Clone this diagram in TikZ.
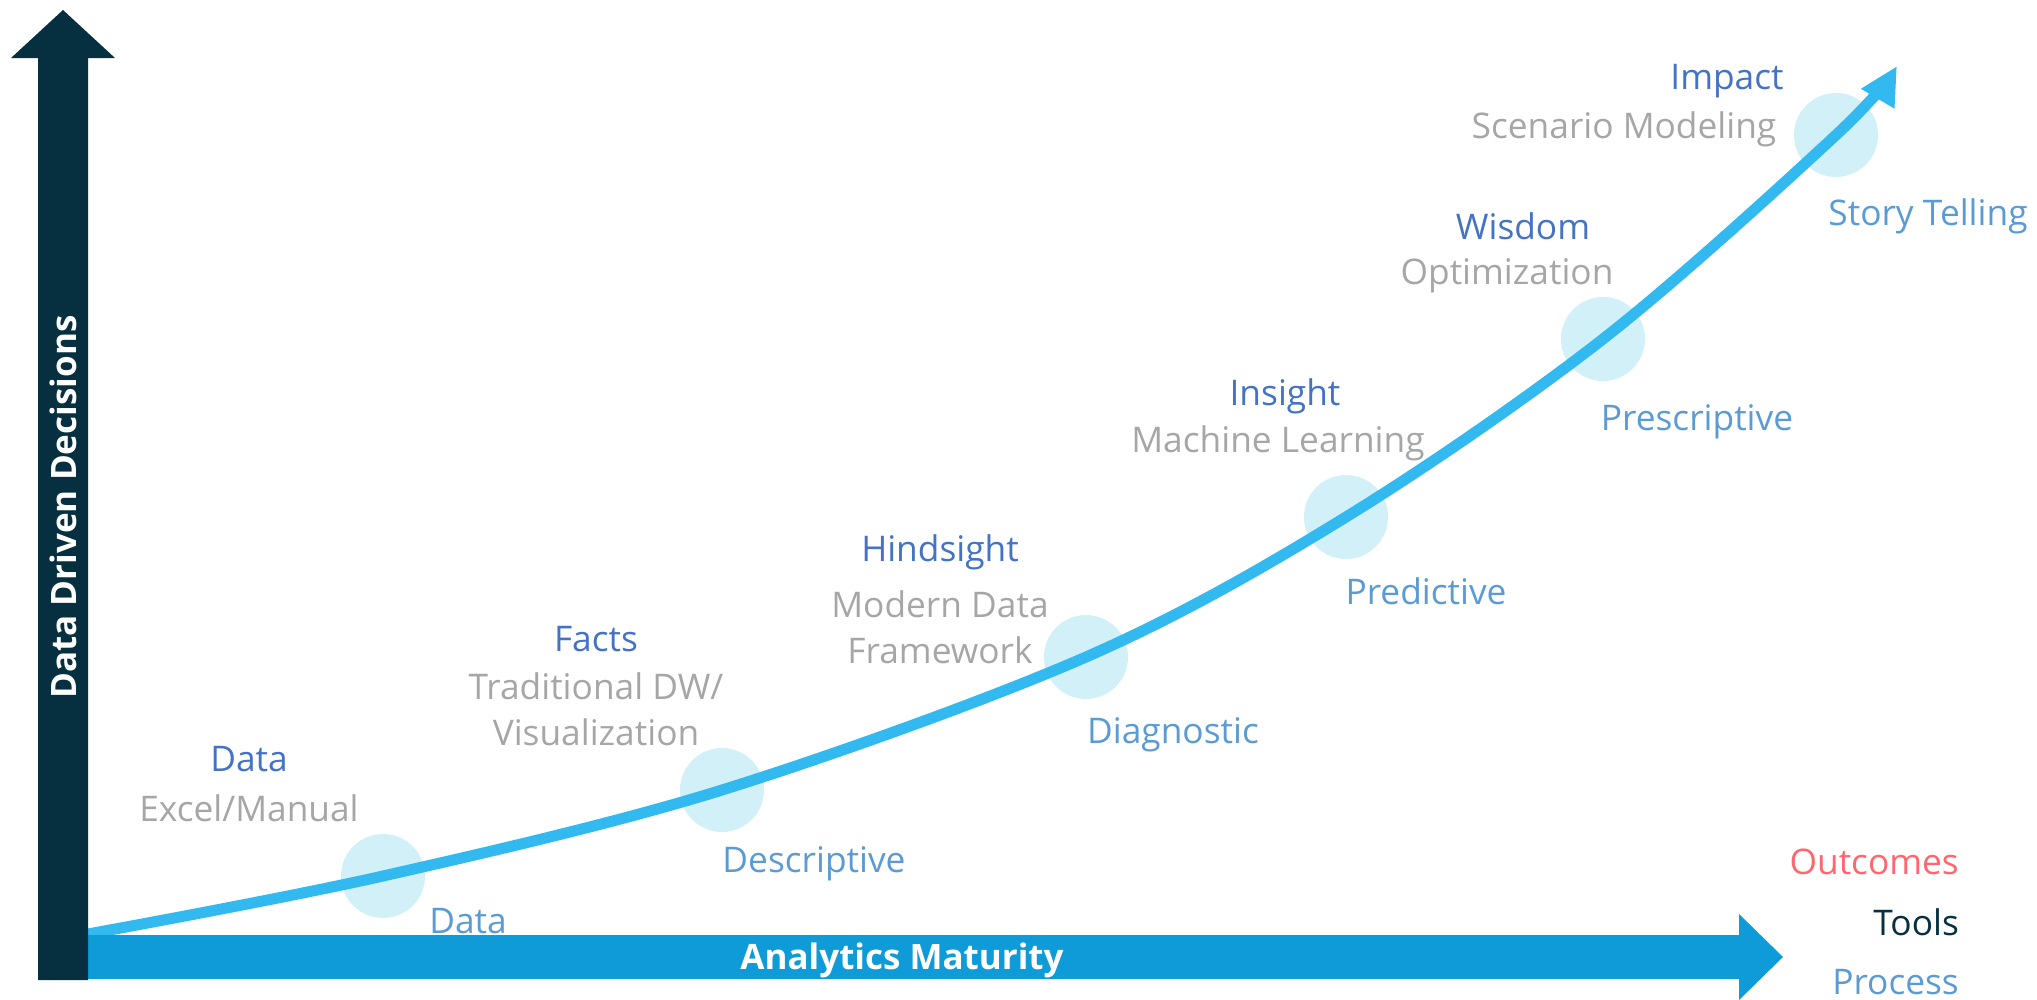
\documentclass[tikz,border=0pt]{standalone}
\usepackage{fontspec}
\setmainfont{Open Sans}
\usetikzlibrary{arrows.meta}
\definecolor{navy}{HTML}{06303F}
\definecolor{barblue}{HTML}{0E9BD7}
\definecolor{curveblue}{HTML}{32BAF0}
\definecolor{bubble}{HTML}{D2F0F7}
\definecolor{head}{HTML}{4472C4}
\definecolor{sub}{HTML}{A6A6A6}
\definecolor{stage}{HTML}{5B9BD5}
\definecolor{outc}{HTML}{FF6670}
\newcommand{\fsz}[2]{\fontsize{#1bp}{#2bp}\selectfont}
\begin{document}
\begin{tikzpicture}[x=1bp,y=-1bp,
  bubblenode/.style={circle,fill=bubble,minimum size=84bp,inner sep=0pt},
  lbl/.style={font=\fsz{35.3}{46},inner sep=0pt,yshift=-4bp},
  headlbl/.style={lbl,text=head},
  sublbl/.style={lbl,text=sub,align=center},
  stagelbl/.style={lbl,text=stage},
  barlbl/.style={text=white,font=\bfseries\fsz{35}{42},inner sep=0pt}]
\useasboundingbox (0,0) rectangle (2037,1000);
% bubbles
\node[bubblenode] (c1) at (383,876) {};
\node[bubblenode] (c2) at (722,790) {};
\node[bubblenode] (c3) at (1086,657) {};
\node[bubblenode] (c4) at (1346,517) {};
\node[bubblenode] (c5) at (1603,339) {};
\node[bubblenode] (c6) at (1836,135) {};
\coordinate (s) at (88,934);
\coordinate (e) at (1897,66);
% maturity curve
\draw[curveblue,line width=11bp,-{Triangle[length=38bp,width=36bp]}]
  plot[smooth,tension=0.55] coordinates {(s) (c1.center) (c2.center) (c3.center) (c4.center) (c5.center) (c6.center) (e)};
% axes
\fill[barblue] (88,935) -- (1739,935) -- (1739,914) -- (1783,957) -- (1739,1000) -- (1739,979) -- (88,979) -- cycle;
\fill[navy] (38,980) -- (38,58) -- (11,58) -- (63,10) -- (115,58) -- (88,58) -- (88,980) -- cycle;
\node[barlbl,rotate=90] (yl) at (63,507) {Data Driven Decisions};
\node[barlbl] (xl) at (902,960) {Analytics Maturity};
% headers
\node[headlbl] (h1) at (249,755) {Data};
\node[headlbl] (h2) at (596,635) {Facts};
\node[headlbl] (h3) at (940,548) {Hindsight};
\node[headlbl] (h4) at (1285,392) {Insight};
\node[headlbl] (h5) at (1523,222) {Wisdom};
\node[headlbl] (h6) at (1727,77) {Impact};
% tools
\node[sublbl] (t1) at (249,804) {Excel/Manual};
\node[sublbl] (t2) at (596,705) {Traditional DW/\\Visualization};
\node[sublbl] (t3) at (940,623) {Modern Data\\Framework};
\node[sublbl] (t4) at (1278,439) {Machine Learning};
\node[sublbl] (t5) at (1507,272) {Optimization};
\node[sublbl] (t6) at (1624,125) {Scenario Modeling};
% stages
\node[stagelbl] (p1) at (468,917) {Data};
\node[stagelbl] (p2) at (814,860) {Descriptive};
\node[stagelbl] (p3) at (1173,731) {Diagnostic};
\node[stagelbl] (p4) at (1426,587) {Predictive};
\node[stagelbl] (p5) at (1697,418) {Prescriptive};
\node[stagelbl] (p6) at (1928,212) {Story Telling};
% legend
\node[lbl,text=outc,anchor=east] (lo) at (1959,858) {Outcomes};
\node[lbl,text=navy,anchor=east] (lt) at (1959,918) {Tools};
\node[lbl,text=stage,anchor=east] (lp) at (1959,978) {Process};
\end{tikzpicture}
\end{document}
